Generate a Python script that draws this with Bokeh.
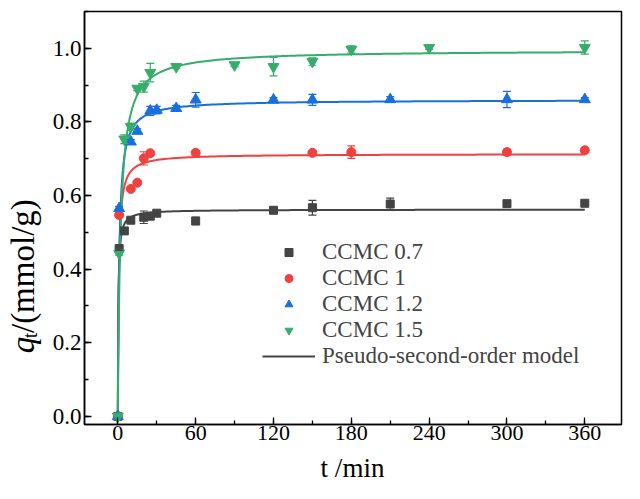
import numpy as np
from math import pi
from bokeh.plotting import figure
from bokeh.layouts import row, column
from bokeh.models import (ColumnDataSource, Whisker, TeeHead, Legend, LegendItem,
                          Range1d, FixedTicker, NumeralTickFormatter)
from bokeh.core.properties import value
from bokeh.embed import file_html
from bokeh.resources import INLINE

# ---------------- data ----------------
series_names = ["CCMC 0.7", "CCMC 1", "CCMC 1.2", "CCMC 1.5"]
series_colors = ["#444444", "#F14040", "#1A6FDF", "#37AD6B"]
series_markers = ["square", "circle", "triangle", "inverted_triangle"]

t_07 = [0, 1, 5, 10, 20, 25, 30, 60, 120, 150, 210, 300, 360]
q_07 = [0, 0.456, 0.504, 0.533, 0.541, 0.544, 0.552, 0.531, 0.560, 0.567, 0.577, 0.578, 0.579]
e_07 = [0, 0.005, 0.008, 0.005, 0.017, 0.008, 0.005, 0.010, 0.004, 0.020, 0.016, 0.004, 0.004]

t_10 = [0, 1, 10, 15, 20, 25, 60, 150, 180, 300, 360]
q_10 = [0, 0.547, 0.618, 0.635, 0.701, 0.715, 0.716, 0.716, 0.718, 0.718, 0.723]
e_10 = [0, 0.005, 0.005, 0.005, 0.018, 0.005, 0.006, 0.006, 0.017, 0.008, 0.006]

t_12 = [0, 1, 10, 15, 25, 30, 45, 60, 120, 150, 210, 300, 360]
q_12 = [0, 0.565, 0.746, 0.775, 0.830, 0.832, 0.837, 0.860, 0.860, 0.860, 0.861, 0.861, 0.861]
e_12 = [0, 0.005, 0.006, 0.006, 0.012, 0.010, 0.008, 0.020, 0.006, 0.015, 0.008, 0.022, 0.005]

t_15 = [0, 1, 5, 10, 15, 20, 25, 45, 90, 120, 150, 180, 240, 360]
q_15 = [0, 0.443, 0.753, 0.787, 0.891, 0.896, 0.934, 0.950, 0.955, 0.950, 0.964, 0.997, 1.002, 1.002]
e_15 = [0, 0.005, 0.012, 0.010, 0.006, 0.015, 0.025, 0.004, 0.005, 0.025, 0.010, 0.010, 0.005, 0.018]

# pseudo-second-order fit parameters (qe in mmol/g, k in g/(mmol*min))
fit_qe = [0.562, 0.713, 0.860, 0.995]
fit_k = [4.7, 1.97, 1.05, 0.48]

x_ticks = [0, 60, 120, 180, 240, 300, 360]
y_ticks = [0.0, 0.2, 0.4, 0.6, 0.8, 1.0]

ts = [t_07, t_10, t_12, t_15]
qs = [q_07, q_10, q_12, q_15]
es = [e_07, e_10, e_12, e_15]

FONT = "Liberation Serif"
W, H = 624, 483
LAB_W = 48
BOT_H = 31
TOP_H = H - BOT_H

p = figure(width=W - LAB_W, height=TOP_H, output_backend="svg", toolbar_location=None,
           x_range=Range1d(-25.7, 388.3), y_range=Range1d(-0.022, 1.10),
           min_border_left=36, min_border_right=3, min_border_top=11, min_border_bottom=28)
p.background_fill_color = "white"
p.border_fill_color = "white"
p.grid.visible = False
p.outline_line_color = "black"
p.outline_line_width = 1.5

for ax in (p.xaxis[0], p.yaxis[0]):
    ax.axis_line_width = 1.5
    ax.major_tick_in = 7
    ax.major_tick_out = 0
    ax.minor_tick_in = 4
    ax.minor_tick_out = 0
    ax.major_tick_line_width = 1.3
    ax.minor_tick_line_width = 1.3
    ax.major_label_text_font = FONT
    ax.major_label_text_color = "black"
p.xaxis.major_label_text_font_size = "22px"
p.yaxis.major_label_text_font_size = "23px"

p.xaxis.ticker = FixedTicker(ticks=x_ticks, minor_ticks=list(range(-30, 420, 30)))
p.yaxis.ticker = FixedTicker(ticks=y_ticks, minor_ticks=[round(0.1 * i, 1) for i in range(0, 12)])
p.yaxis.formatter = NumeralTickFormatter(format="0.0")
p.xaxis.major_label_standoff = 1
p.yaxis.major_label_standoff = 3

# fit curves
t_fit = np.concatenate([np.linspace(0, 2, 81), np.linspace(2.1, 30, 120), np.linspace(31, 360, 200)])
fit_renderers = []
for qe, k, c in zip(fit_qe, fit_k, series_colors):
    qf = k * qe ** 2 * t_fit / (1 + k * qe * t_fit)
    r = p.line(t_fit, qf, line_color=c, line_width=2)
    fit_renderers.append(r)

# error bars + points
sizes = {"square": 8, "circle": 9, "triangle": 11, "inverted_triangle": 11}
scatter_renderers = []
for t, q, e, c, m in zip(ts, qs, es, series_colors, series_markers):
    tt = [a for a, b in zip(t, e) if b > 0]
    qq = [a for a, b in zip(q, e) if b > 0]
    ee = [b for b in e if b > 0]
    src = ColumnDataSource(dict(t=tt, up=[a + b for a, b in zip(qq, ee)], lo=[a - b for a, b in zip(qq, ee)]))
    w = Whisker(base="t", upper="up", lower="lo", source=src, line_color=c, line_width=1.2,
                upper_head=TeeHead(size=8, line_color=c, line_width=1.2),
                lower_head=TeeHead(size=8, line_color=c, line_width=1.2))
    w.level = "glyph"
    p.add_layout(w)
    r = p.scatter(t, q, marker=m, size=sizes[m], fill_color=c, line_color=c)
    scatter_renderers.append(r)

items = [LegendItem(label=n, renderers=[r]) for n, r in zip(series_names, scatter_renderers)]
items.append(LegendItem(label="Pseudo-second-order model", renderers=[fit_renderers[0]]))
legend = Legend(items=items, location=(178, 55), padding=0, margin=0, spacing=0,
                glyph_width=53, glyph_height=20, label_height=20, label_standoff=7,
                label_text_font=FONT, label_text_font_size="23px",
                border_line_color=None, background_fill_alpha=0)
p.add_layout(legend, "center")


def text_panel(width, height):
    f = figure(width=width, height=height, output_backend="svg", toolbar_location=None,
               x_range=Range1d(0, width), y_range=Range1d(0, height),
               x_axis_location=None, y_axis_location=None,
               min_border=0, min_border_left=0, min_border_right=0,
               min_border_top=0, min_border_bottom=0)
    f.grid.visible = False
    f.outline_line_color = None
    f.background_fill_color = "white"
    f.border_fill_color = "white"
    return f


# left panel: y-axis title (italic q, subscript t, unit)
lab = text_panel(LAB_W, TOP_H)
Q_X, Q_Y = 22, 78
lab.text(x=[Q_X], y=[Q_Y], text=["q"], angle=pi / 2, text_font=value(FONT),
         text_font_style="italic", text_font_size="33px",
         text_baseline="middle", text_align="left", text_color="black")
lab.text(x=[Q_X + 7], y=[Q_Y + 16.5], text=["t"], angle=pi / 2, text_font=value(FONT),
         text_font_size="20px", text_baseline="middle", text_align="left", text_color="black")
lab.text(x=[Q_X], y=[Q_Y + 22.1], text=[" /(mmol/g)"], angle=pi / 2, text_font=value(FONT),
         text_font_size="33px", text_baseline="middle", text_align="left", text_color="black")

# bottom panel: x-axis title
bot = text_panel(W, BOT_H)
bot.text(x=[LAB_W + 36 + 268], y=[BOT_H / 2], text=["t /min"], text_font=value(FONT),
         text_font_size="27px", text_baseline="middle", text_align="center", text_color="black")

layout = column(row(lab, p), bot)
open("out.html", "w").write(file_html(layout, INLINE))
